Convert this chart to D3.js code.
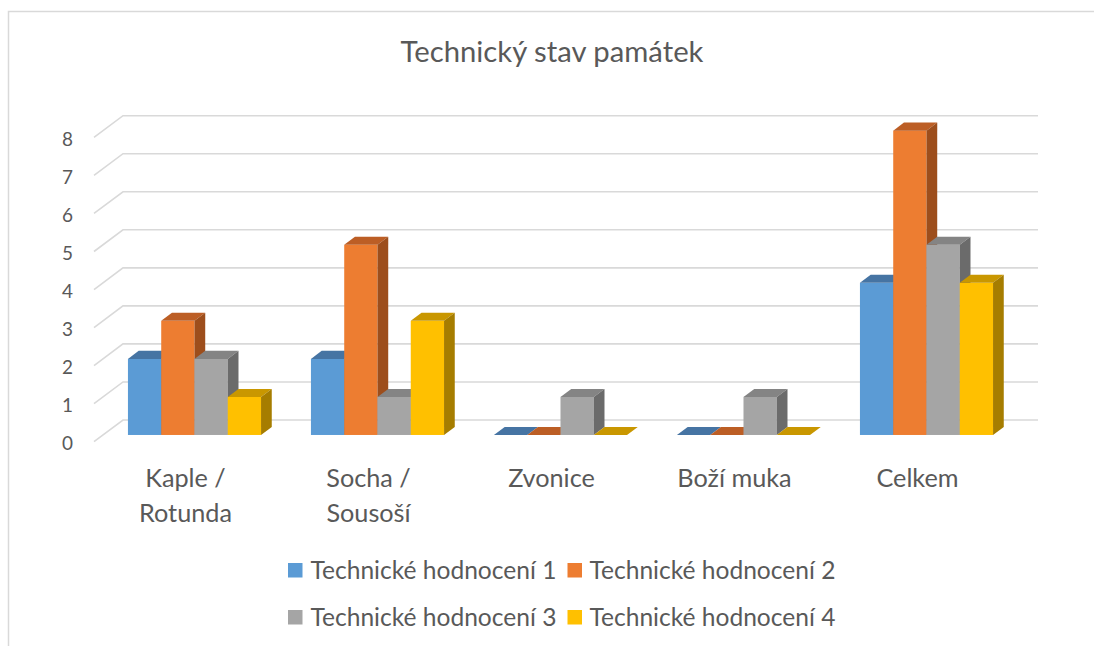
<!DOCTYPE html>
<html>
<head>
<meta charset="utf-8">
<script src="https://cdn.jsdelivr.net/npm/d3@7"></script>
<style>
  html, body { margin: 0; padding: 0; background: #fff; }
  svg { display: block; }
  text { font-family: Lato, "Open Sans", sans-serif; fill: #595959; }
</style>
</head>
<body>
<svg id="chart" width="1094" height="646"></svg>
<script>
const title = "Technický stav památek";
const categories = [["Kaple /", "Rotunda"], ["Socha /", "Sousoší"], ["Zvonice"], ["Boží muka"], ["Celkem"]];
const seriesNames = ["Technické hodnocení 1", "Technické hodnocení 2", "Technické hodnocení 3", "Technické hodnocení 4"];
const hodnoceni1 = [2, 2, 0, 0, 4];
const hodnoceni2 = [3, 5, 0, 0, 8];
const hodnoceni3 = [2, 1, 1, 1, 5];
const hodnoceni4 = [1, 3, 0, 0, 4];
const seriesValues = [hodnoceni1, hodnoceni2, hodnoceni3, hodnoceni4];
const yTicks = [0, 1, 2, 3, 4, 5, 6, 7, 8];

const frontColors = ["#5B9BD5", "#ED7D31", "#A5A5A5", "#FFC000"];
const topColors   = ["#4674A3", "#BC5E25", "#848484", "#C99700"];
const sideColors  = ["#3B6591", "#9D4E1C", "#6B6B6B", "#A67D00"];

const svg = d3.select("#chart");

// chart area border
svg.append("path")
  .attr("d", "M8.5,646 L8.5,11.5 L1094,11.5")
  .attr("fill", "none").attr("stroke", "#d9d9d9").attr("stroke-width", 1.5);

// 3D oblique geometry
const frontLeft = 94, frontRight = 1009, baseY = 441.7;
const depthX = 29, depthY = -21.7;
const barDepth0 = 0.31, barDepth1 = 0.68;

const x = d3.scaleBand().domain(d3.range(categories.length))
  .range([frontLeft, frontRight]).paddingInner(1.5 / 5.5).paddingOuter(0.75 / 5.5);
const xs = d3.scaleBand().domain(d3.range(seriesNames.length)).range([0, x.bandwidth()]);
const y = d3.scaleLinear().domain([0, 8]).range([baseY, baseY - 8 * 38.04]);

// gridlines (side wall diagonal + back wall horizontal)
const grid = svg.append("g");
yTicks.forEach(v => {
  const yf = y(v);
  grid.append("path")
    .attr("d", `M${frontLeft},${yf} L${frontLeft + depthX},${yf + depthY} L${frontRight + depthX},${yf + depthY}`)
    .attr("fill", "none").attr("stroke", "#d9d9d9").attr("stroke-width", 1.6);
});

// y tick labels
const yLab = svg.append("g");
yTicks.forEach(v => {
  yLab.append("text")
    .attr("x", 73).attr("y", y(v) + 2)
    .attr("dy", "0.35em")
    .attr("text-anchor", "end")
    .attr("class", "ytick")
    .text(v);
});

// bars
const bars = svg.append("g");
const dx0 = depthX * barDepth0, dy0 = depthY * barDepth0;
const ddx = depthX * (barDepth1 - barDepth0), ddy = depthY * (barDepth1 - barDepth0);
categories.forEach((c, ci) => {
  seriesValues.forEach((vals, si) => {
    const v = vals[ci];
    const xl = x(ci) + xs(si) + dx0;
    const xr = xl + xs.bandwidth();
    const yb = y(0) + dy0;
    const yt = y(v) + dy0;
    if (yb - yt > 0) {
      bars.append("rect").attr("x", xl).attr("y", yt)
        .attr("width", xr - xl).attr("height", yb - yt)
        .attr("fill", frontColors[si]);
    }
    bars.append("path")
      .attr("d", `M${xl},${yt} L${xl + ddx},${yt + ddy} L${xr + ddx},${yt + ddy} L${xr},${yt} Z`)
      .attr("fill", topColors[si]);
    if (yb - yt > 0) {
      bars.append("path")
        .attr("d", `M${xr},${yt} L${xr + ddx},${yt + ddy} L${xr + ddx},${yb + ddy} L${xr},${yb} Z`)
        .attr("fill", sideColors[si]);
    }
  });
});

// category labels
const catG = svg.append("g");
categories.forEach((lines, ci) => {
  const cx = x(ci) + x.bandwidth() / 2;
  lines.forEach((ln, li) => {
    catG.append("text").attr("class", "cat")
      .attr("x", cx).attr("y", 486.5 + li * 35)
      .attr("text-anchor", "middle").text(ln);
  });
});

// title
svg.append("text").attr("class", "title")
  .attr("x", 552).attr("y", 62).attr("text-anchor", "middle").text(title);

// legend
const legPos = [[288, 563, 310.5, 579], [567.5, 563, 589.5, 579], [288, 610, 310.5, 626], [567.5, 610, 589.5, 626]];
seriesNames.forEach((n, i) => {
  const p = legPos[i];
  svg.append("rect").attr("x", p[0]).attr("y", p[1]).attr("width", 14.5).attr("height", 14.5)
    .attr("fill", frontColors[i]);
  svg.append("text").attr("class", "leg").attr("x", p[2]).attr("y", p[3]).text(n);
});

// fit font sizes to the measured widths of the reference
function fit(sel, sample, target) {
  sel.style("font-size", "20px");
  const node = sel.filter(function () { return this.textContent === sample; }).node();
  const w = node.getComputedTextLength();
  sel.style("font-size", (20 * target / w) + "px");
}
fit(svg.selectAll("text.title"), title, 303);
fit(svg.selectAll("text.leg"), seriesNames[0], 246);
fit(svg.selectAll("text.cat"), "Rotunda", 93);
fit(svg.selectAll("text.ytick"), "8", 11);
</script>
</body>
</html>
